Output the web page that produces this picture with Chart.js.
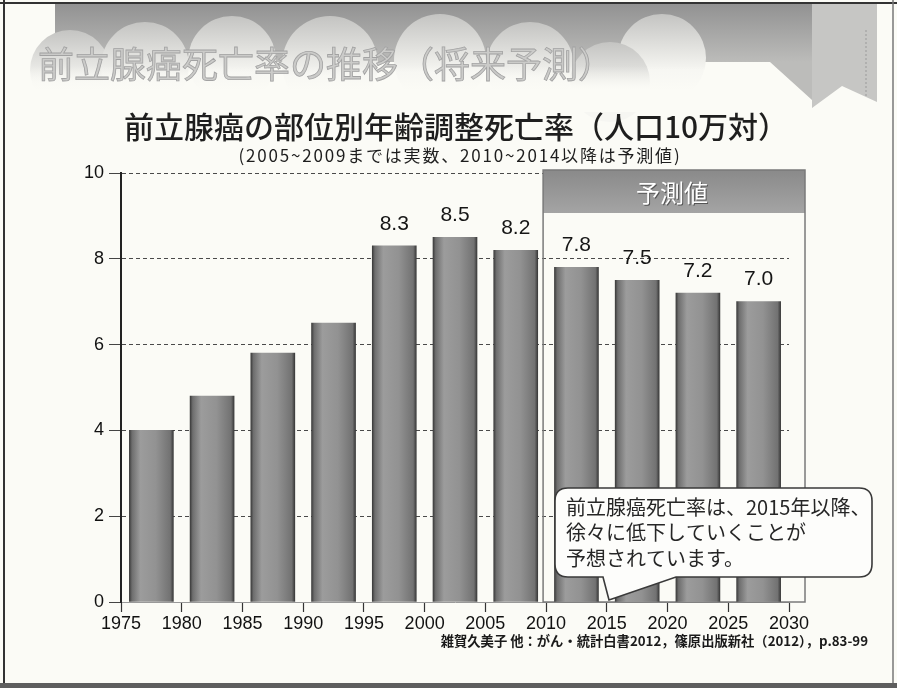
<!DOCTYPE html>
<html><head><meta charset="utf-8">
<script src="https://cdn.jsdelivr.net/npm/chart.js@4.4.0/dist/chart.umd.min.js"></script>
<style>
html,body{margin:0;padding:0;background:#fbfbf6;}
#wrap{position:relative;width:897px;height:688px;overflow:hidden;}
canvas{display:block;}
</style></head><body>
<div id="wrap"><canvas id="c" width="897" height="688"></canvas></div>
<script>
// ---- data ----
const periodStarts = [1975, 1980, 1985, 1990, 1995, 2000, 2005, 2010, 2015, 2020, 2025];
const rates = [4.0, 4.8, 5.8, 6.5, 8.3, 8.5, 8.2, 7.8, 7.5, 7.2, 7.0];
const valueLabels = ['', '', '', '', '8.3', '8.5', '8.2', '7.8', '7.5', '7.2', '7.0'];
const xTickYears = [1975, 1980, 1985, 1990, 1995, 2000, 2005, 2010, 2015, 2020, 2025, 2030];
const yTickValues = [0, 2, 4, 6, 8, 10];
const forecastFrom = 2010;

const slideTitle = '前立腺癌死亡率の推移（将来予測）';
const chartTitle = '前立腺癌の部位別年齢調整死亡率（人口10万対）';
const chartSubtitle = '(2005~2009までは実数、2010~2014以降は予測値)';
const forecastLabel = '予測値';
const calloutLines = ['前立腺癌死亡率は、2015年以降、', '徐々に低下していくことが', '予想されています。'];
const sourceText = '雑賀久美子 他：がん・統計白書2012，篠原出版新社（2012），p.83-99';

const JP = '"Noto Sans CJK JP", "Noto Sans", sans-serif';
const NUM = '"Liberation Sans", Arial, sans-serif';

const points = periodStarts.map((s, i) => ({ x: s + 2.5, y: rates[i] }));

function barFill(ctx) {
  const chart = ctx.chart;
  const xs = chart.scales && chart.scales.x;
  if (!xs || ctx.raw == null) return '#8c8c8c';
  const cx = xs.getPixelForValue(ctx.raw.x);
  if (!isFinite(cx)) return '#8c8c8c';
  const w = 44;
  const g = chart.ctx.createLinearGradient(cx - w / 2, 0, cx + w / 2, 0);
  g.addColorStop(0, '#3c3c3c');
  g.addColorStop(0.06, '#6e6e6e');
  g.addColorStop(0.25, '#9c9c9c');
  g.addColorStop(0.6, '#929292');
  g.addColorStop(0.93, '#727272');
  g.addColorStop(1, '#3a3a3a');
  return g;
}

const decor = {
  id: 'decor',
  beforeDraw(chart) {
    const c = chart.ctx;
    c.save();
    c.fillStyle = '#fbfbf6';
    c.fillRect(0, 0, 897, 688);
    // header band
    const g = c.createLinearGradient(0, 4, 0, 62);
    g.addColorStop(0, '#929292');
    g.addColorStop(1, '#bcbcba');
    c.fillStyle = g;
    c.beginPath();
    c.moveTo(55, 4); c.lineTo(812, 4); c.lineTo(812, 100); c.lineTo(770, 62); c.lineTo(55, 62); c.closePath();
    c.fill();
    // cloud puffs
    [[70, 70, 40], [145, 66, 44], [232, 60, 44], [330, 64, 48], [440, 60, 46], [530, 66, 44], [662, 58, 44], [610, 82, 40]].forEach(p => {
      const pg = c.createLinearGradient(0, p[1] - p[2], 0, p[1] + 12);
      pg.addColorStop(0, '#c4c4c2');
      pg.addColorStop(1, '#f6f6f2');
      c.fillStyle = pg;
      c.beginPath(); c.arc(p[0], p[1], p[2], 0, 2 * Math.PI); c.fill();
    });
    const fade = c.createLinearGradient(0, 66, 0, 90);
    fade.addColorStop(0, 'rgba(251,251,246,0)');
    fade.addColorStop(1, 'rgba(251,251,246,1)');
    c.fillStyle = fade;
    c.fillRect(5, 66, 765, 24);
    c.fillStyle = '#fbfbf6';
    c.fillRect(5, 90, 765, 22);
    // bookmark ribbon
    c.fillStyle = '#c6c6c4';
    c.beginPath();
    c.moveTo(812, 4); c.lineTo(877, 4); c.lineTo(877, 102); c.lineTo(842, 86); c.lineTo(812, 108); c.closePath();
    c.fill();
    c.strokeStyle = '#9a9a9a'; c.setLineDash([2, 2]); c.lineWidth = 1;
    c.beginPath(); c.moveTo(866, 30); c.lineTo(866, 96); c.stroke();
    c.setLineDash([]);
    // slide title
    c.font = '36px ' + JP;
    c.textBaseline = 'middle';
    c.fillStyle = '#cbcbc9';
    c.strokeStyle = '#a2a2a2';
    c.lineWidth = 0.8;
    c.fillText(slideTitle, 38, 64);
    c.strokeText(slideTitle, 38, 64);
    // chart title and subtitle
    c.fillStyle = '#1e1e1e';
    c.textAlign = 'center';
    c.font = '500 30px ' + JP;
    c.fillText(chartTitle, 456, 127);
    c.font = '17px ' + JP;
    try { c.letterSpacing = '1.8px'; } catch (e) {}
    c.fillText(chartSubtitle, 460, 156);
    try { c.letterSpacing = '0px'; } catch (e) {}
    // frame
    c.strokeStyle = '#333'; c.lineWidth = 2;
    c.beginPath(); c.moveTo(0, 3); c.lineTo(897, 3); c.stroke();
    c.beginPath(); c.moveTo(4, 0); c.lineTo(4, 684); c.stroke();
    c.strokeStyle = '#777'; c.lineWidth = 1.5;
    c.beginPath(); c.moveTo(893, 0); c.lineTo(893, 684); c.stroke();
    c.fillStyle = '#5e5e5e';
    c.fillRect(0, 683, 897, 5);
    c.restore();
  },
  beforeDatasetsDraw(chart) {
    const c = chart.ctx;
    const xs = chart.scales.x, a = chart.chartArea;
    const left = xs.getPixelForValue(forecastFrom) - 3;
    const right = a.right + 16;
    const top = a.top - 3;
    c.save();
    const hg = c.createLinearGradient(0, top, 0, top + 43);
    hg.addColorStop(0, '#8a8a8a');
    hg.addColorStop(1, '#a4a4a4');
    c.fillStyle = hg;
    c.fillRect(left, top, right - left, 43);
    c.strokeStyle = '#7a7a7a'; c.lineWidth = 1.5;
    c.strokeRect(left, top, right - left, a.bottom - top);
    c.font = '24px ' + JP;
    c.textAlign = 'center'; c.textBaseline = 'middle';
    c.fillStyle = '#555';
    c.fillText(forecastLabel, (left + right) / 2 - 1, top + 24);
    c.fillStyle = '#ffffff';
    c.fillText(forecastLabel, (left + right) / 2 - 2, top + 23);
    c.restore();
  },
  afterDatasetsDraw(chart) {
    const c = chart.ctx;
    const meta = chart.getDatasetMeta(0);
    c.save();
    c.font = '21px ' + NUM;
    c.fillStyle = '#151515';
    c.textAlign = 'center'; c.textBaseline = 'middle';
    meta.data.forEach((el, i) => {
      if (valueLabels[i]) c.fillText(valueLabels[i], el.x, el.y - 22);
    });
    // callout
    const x0 = 555, y0 = 488, x1 = 872, y1 = 577, r = 13;
    c.beginPath();
    c.moveTo(x0 + r, y0);
    c.lineTo(x1 - r, y0); c.quadraticCurveTo(x1, y0, x1, y0 + r);
    c.lineTo(x1, y1 - r); c.quadraticCurveTo(x1, y1, x1 - r, y1);
    c.lineTo(676, y1);
    c.lineTo(609, 600);
    c.lineTo(603, y1);
    c.lineTo(x0 + r, y1); c.quadraticCurveTo(x0, y1, x0, y1 - r);
    c.lineTo(x0, y0 + r); c.quadraticCurveTo(x0, y0, x0 + r, y0);
    c.closePath();
    c.fillStyle = '#fdfdfb';
    c.fill();
    c.strokeStyle = '#3a3a3a'; c.lineWidth = 1.6;
    c.stroke();
    c.font = '20px ' + JP;
    c.fillStyle = '#262626';
    c.textAlign = 'left';
    calloutLines.forEach((t, i) => c.fillText(t, 566, 507 + i * 25.5));
    // source
    c.font = 'bold 13.3px ' + JP;
    c.textAlign = 'right';
    c.fillStyle = '#1a1a1a';
    c.fillText(sourceText, 868, 641);
    c.restore();
  }
};

new Chart(document.getElementById('c'), {
  type: 'bar',
  data: {
    datasets: [{
      data: points,
      backgroundColor: barFill,
      borderWidth: 0,
      barThickness: 44
    }]
  },
  options: {
    responsive: false,
    animation: false,
    events: [],
    layout: { padding: { top: 173, right: 108, left: 0, bottom: 0 } },
    plugins: { legend: { display: false }, tooltip: { enabled: false }, title: { display: false } },
    scales: {
      x: {
        type: 'linear',
        min: xTickYears[0],
        max: xTickYears[xTickYears.length - 1],
        offset: false,
        afterBuildTicks: s => { s.ticks = xTickYears.map(v => ({ value: v })); },
        afterFit: s => { s.height = 86; },
        ticks: {
          callback: v => String(v),
          autoSkip: false,
          maxRotation: 0,
          padding: 1,
          color: '#111',
          font: { family: NUM, size: 18 }
        },
        grid: { offset: false, drawOnChartArea: false, drawTicks: true, tickLength: 10, tickColor: '#333', tickWidth: 1.2 },
        border: { display: true, color: '#999', width: 1 }
      },
      y: {
        min: yTickValues[0],
        max: yTickValues[yTickValues.length - 1],
        afterBuildTicks: s => { s.ticks = yTickValues.map(v => ({ value: v })); },
        afterFit: s => { s.width = 121; },
        ticks: {
          padding: 5,
          color: '#111',
          font: { family: NUM, size: 18 }
        },
        grid: { color: '#4a4a4a', lineWidth: 1, drawTicks: true, tickLength: 12, tickColor: '#444' },
        border: { display: true, color: '#222', width: 2, dash: [4, 3] }
      }
    }
  },
  plugins: [decor]
});
</script>
</body></html>
